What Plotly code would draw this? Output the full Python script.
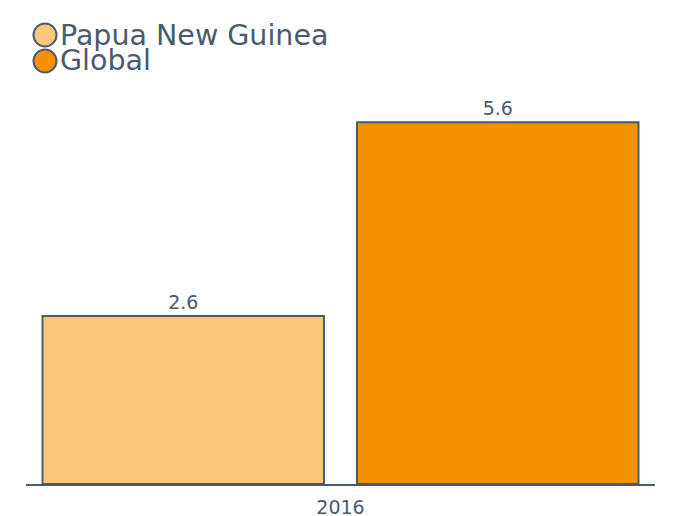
import plotly.graph_objects as go

categories = ["2016"]
series_names = ["Papua New Guinea", "Global"]
png_values = [2.6]
global_values = [5.6]
colors = ["#FCC67B", "#F39200"]

TEXT = "#4A5B6D"
EDGE = "#4A5B6D"
FONT = "DejaVu Sans"

fig = go.Figure()
for name, vals, col in zip(series_names, [png_values, global_values], colors):
    fig.add_trace(go.Bar(
        x=categories, y=vals, name=name,
        marker=dict(color=col, line=dict(color=EDGE, width=2)),
        text=[f"{v:.1f}" for v in vals], textposition="outside",
        textfont=dict(family=FONT, size=19, color=TEXT),
        cliponaxis=False, showlegend=False,
    ))

# legend drawn as circles + text (positions in pixels relative to plot area)
PL, PT, W, H = 26, 90, 629, 394
for i, (name, col) in enumerate(zip(series_names, colors)):
    cy = 35 + 26 * i
    ypap = (PT + H - cy) / H
    xpap = (45 - PL) / W
    fig.add_shape(type="circle", xref="paper", yref="paper",
                  xsizemode="pixel", ysizemode="pixel",
                  xanchor=xpap, yanchor=ypap,
                  x0=-11.5, x1=11.5, y0=-11.5, y1=11.5,
                  fillcolor=col, line=dict(color=EDGE, width=2))
    fig.add_annotation(xref="paper", yref="paper", x=(58 - PL) / W, y=ypap,
                       xanchor="left", yanchor="middle", showarrow=False,
                       text=name,
                       font=dict(family=FONT, size=28.5, color=TEXT))

fig.update_layout(
    width=674, height=516,
    margin=dict(l=18, r=27, t=82, b=40, autoexpand=False),
    paper_bgcolor="white", plot_bgcolor="white",
    barmode="group", bargap=0.0, bargroupgap=0.105,
    xaxis=dict(showline=True, linecolor=EDGE, linewidth=2, ticks="",
               ticklabelstandoff=5, automargin=False,
               tickfont=dict(family=FONT, size=19, color=TEXT),
               showgrid=False, zeroline=False),
    yaxis=dict(visible=False, automargin=False, range=[0, 6.1],
               showgrid=False, zeroline=False),
    font=dict(family=FONT, color=TEXT),
)

fig.write_html("out.html")
